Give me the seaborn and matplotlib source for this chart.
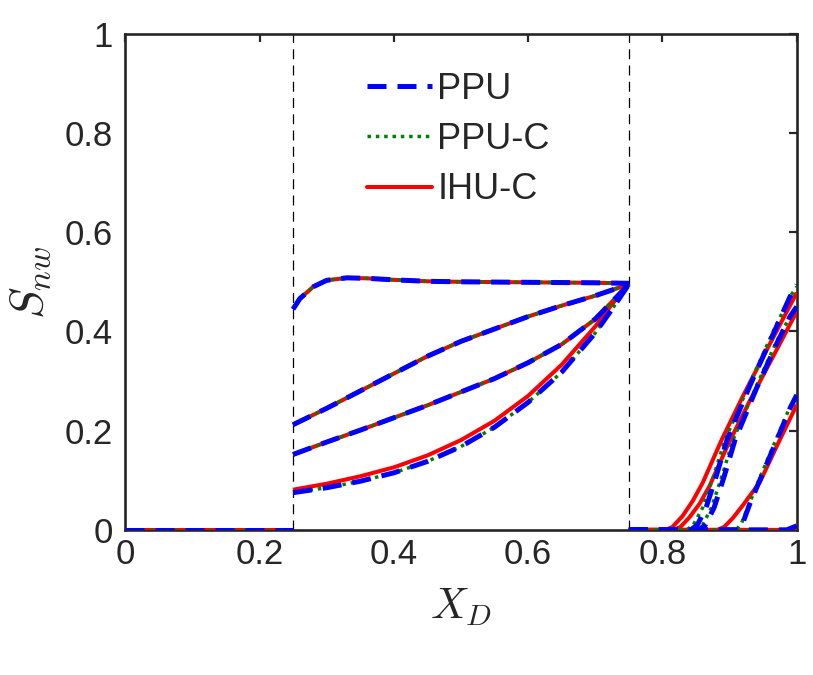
import numpy as np
import pandas as pd
import matplotlib
matplotlib.use("Agg")
import matplotlib.pyplot as plt
from matplotlib.lines import Line2D
import seaborn as sns

# ---------------- data ----------------
methods = ["PPU", "PPU-C", "IHU-C"]
colors = {"PPU": "#0000FF", "PPU-C": "#008000", "IHU-C": "#FF0000"}

# left zero segment (all curves)
x_left = [0.0, 0.25]
y_left = [0.0, 0.0]

# middle region curves (0.25 .. 0.75)
xA = [0.25, 0.26, 0.28, 0.30, 0.33, 0.36, 0.40, 0.45, 0.50, 0.60, 0.70, 0.75]
yA = [0.445, 0.466, 0.490, 0.503, 0.508, 0.507, 0.504, 0.501, 0.500, 0.499, 0.498, 0.497]

xB = [0.25, 0.30, 0.35, 0.40, 0.45, 0.50, 0.55, 0.60, 0.65, 0.70, 0.75]
yB = [0.212, 0.245, 0.280, 0.315, 0.350, 0.380, 0.405, 0.430, 0.452, 0.472, 0.495]

xC = [0.25, 0.30, 0.35, 0.40, 0.45, 0.50, 0.55, 0.60, 0.65, 0.70, 0.75]
yC = [0.152, 0.177, 0.201, 0.226, 0.251, 0.278, 0.305, 0.337, 0.374, 0.425, 0.495]

xD = [0.25, 0.30, 0.35, 0.40, 0.45, 0.50, 0.55, 0.60, 0.65, 0.70, 0.725, 0.75]
yD_ihu = [0.081, 0.093, 0.108, 0.126, 0.150, 0.181, 0.220, 0.270, 0.333, 0.410, 0.455, 0.495]
yD_ppu = [0.075, 0.085, 0.098, 0.115, 0.138, 0.168, 0.207, 0.257, 0.318, 0.397, 0.445, 0.495]

# right region curves (0.75 .. 1)
x1_ihu = [0.75, 0.805, 0.815, 0.83, 0.845, 0.86, 0.888, 0.92, 0.96, 1.0]
y1_ihu = [0.0, 0.0, 0.006, 0.028, 0.058, 0.095, 0.181, 0.270, 0.375, 0.478]
x2_ihu = [0.75, 0.817, 0.827, 0.84, 0.855, 0.87, 0.897, 0.93, 0.965, 1.0]
y2_ihu = [0.0, 0.0, 0.006, 0.025, 0.052, 0.088, 0.170, 0.260, 0.350, 0.440]
x3_ihu = [0.75, 0.882, 0.892, 0.905, 0.92, 0.945, 0.97, 1.0]
y3_ihu = [0.0, 0.0, 0.006, 0.024, 0.050, 0.096, 0.168, 0.252]
x4_ihu = [0.75, 0.985, 1.0]
y4_ihu = [0.0, 0.0, 0.004]

x1_ppu = [0.75, 0.842, 0.852, 0.865, 0.88, 0.896, 0.93, 0.965, 0.99, 1.0]
y1_ppu = [0.0, 0.0, 0.010, 0.045, 0.108, 0.181, 0.290, 0.395, 0.470, 0.494]
x2_ppu = [0.75, 0.854, 0.864, 0.877, 0.892, 0.908, 0.94, 0.97, 0.99, 1.0]
y2_ppu = [0.0, 0.0, 0.010, 0.045, 0.108, 0.181, 0.285, 0.375, 0.430, 0.450]
x3_ppu = [0.75, 0.912, 0.92, 0.93, 0.945, 0.97, 0.99, 1.0]
y3_ppu = [0.0, 0.0, 0.015, 0.052, 0.100, 0.180, 0.245, 0.272]
x4_ppu = [0.75, 0.985, 1.0]
y4_ppu = [0.0, 0.0, 0.008]

x1_ppuc = [0.75, 0.836, 0.846, 0.86, 0.876, 0.893, 0.93, 0.965, 0.99, 1.0]
y1_ppuc = [0.0, 0.0, 0.010, 0.045, 0.108, 0.181, 0.295, 0.400, 0.470, 0.490]
x2_ppuc = [0.75, 0.85, 0.86, 0.873, 0.889, 0.905, 0.94, 0.97, 0.99, 1.0]
y2_ppuc = [0.0, 0.0, 0.010, 0.045, 0.110, 0.181, 0.290, 0.380, 0.430, 0.447]
x3_ppuc = [0.75, 0.91, 0.918, 0.93, 0.945, 0.97, 0.99, 1.0]
y3_ppuc = [0.0, 0.0, 0.014, 0.055, 0.105, 0.185, 0.248, 0.270]
x4_ppuc = [0.75, 1.0]
y4_ppuc = [0.0, 0.0]

x_ticks = [0, 0.2, 0.4, 0.6, 0.8, 1]
y_ticks = [0, 0.2, 0.4, 0.6, 0.8, 1]
region_bounds = [0.25, 0.75]

# ---------------- assemble long-form table ----------------
segments = {
    "PPU": [(x_left, y_left), (xA, yA), (xB, yB), (xC, yC), (xD, yD_ppu),
            (x1_ppu, y1_ppu), (x2_ppu, y2_ppu), (x3_ppu, y3_ppu), (x4_ppu, y4_ppu)],
    "PPU-C": [(x_left, y_left), (xA, yA), (xB, yB), (xC, yC), (xD, yD_ppu),
              (x1_ppuc, y1_ppuc), (x2_ppuc, y2_ppuc), (x3_ppuc, y3_ppuc), (x4_ppuc, y4_ppuc)],
    "IHU-C": [(x_left, y_left), (xA, yA), (xB, yB), (xC, yC), (xD, yD_ihu),
              (x1_ihu, y1_ihu), (x2_ihu, y2_ihu), (x3_ihu, y3_ihu), (x4_ihu, y4_ihu)],
}
rows = []
for m, segs in segments.items():
    for k, (xs, ys) in enumerate(segs):
        for xv, yv in zip(xs, ys):
            rows.append({"x": xv, "y": yv, "method": m, "seg": f"{m}_{k}"})
df = pd.DataFrame(rows)

# ---------------- plot ----------------
sns.set_theme(style="white")
plt.rcParams["font.family"] = ["Liberation Sans", "DejaVu Sans"]
plt.rcParams["mathtext.fontset"] = "cm"

fig = plt.figure(figsize=(8.13, 6.75), dpi=100)
ax = fig.add_axes([0.154, 0.215, 0.826, 0.735])

styles = {
    "IHU-C": dict(lw=2.9, dashes=None),
    "PPU-C": dict(lw=2.5, dashes=(1.0, 1.4)),
    "PPU": dict(lw=3.6, dashes=(3.8, 2.2)),
}
for z, m in enumerate(["IHU-C", "PPU-C", "PPU"]):
    sub = df[df["method"] == m]
    sns.lineplot(data=sub, x="x", y="y", units="seg", estimator=None, sort=False,
                 color=colors[m], linewidth=styles[m]["lw"], ax=ax, legend=False,
                 zorder=3 + z)
    for ln in ax.lines[-sub["seg"].nunique():]:
        if styles[m]["dashes"] is not None:
            ln.set_dashes(styles[m]["dashes"])
        ln.set_solid_capstyle("butt")
        ln.set_dash_capstyle("butt")
        ln.set_solid_joinstyle("round")

for xb in region_bounds:
    ax.axvline(xb, color="black", lw=0.9, dashes=(8, 5), zorder=2)

ax.set_xlim(0, 1)
ax.set_ylim(0, 1)
ax.set_xticks(x_ticks)
ax.set_yticks(y_ticks)
ax.set_xticklabels([f"{v:g}" for v in x_ticks])
ax.set_yticklabels([f"{v:g}" for v in y_ticks])
ax.tick_params(axis="both", direction="in", top=True, right=True, length=6,
               width=1.6, color="#262626", labelsize=25, labelcolor="#262626")
ax.tick_params(axis="x", pad=6)
ax.tick_params(axis="y", pad=9)
for sp in ax.spines.values():
    sp.set_visible(True)
    sp.set_color("#262626")
    sp.set_linewidth(1.9)

ax.set_xlabel(r"$X_D$", fontsize=31, color="#262626", labelpad=11)
ax.set_ylabel(r"$S_{nw}$", fontsize=34, color="#262626", labelpad=8)

handles = [
    Line2D([], [], color=colors["PPU"], lw=3.6, dashes=(3.8, 2.2)),
    Line2D([], [], color=colors["PPU-C"], lw=2.5, dashes=(1.0, 1.4)),
    Line2D([], [], color=colors["IHU-C"], lw=2.9),
]
ax.legend(handles, methods, loc="upper left", bbox_to_anchor=(0.36, 0.923),
          frameon=False, fontsize=26, handlelength=1.8, handletextpad=0.15,
          labelspacing=0.42, borderpad=0.0, borderaxespad=0.0)

fig.savefig("out.png", dpi=100)
